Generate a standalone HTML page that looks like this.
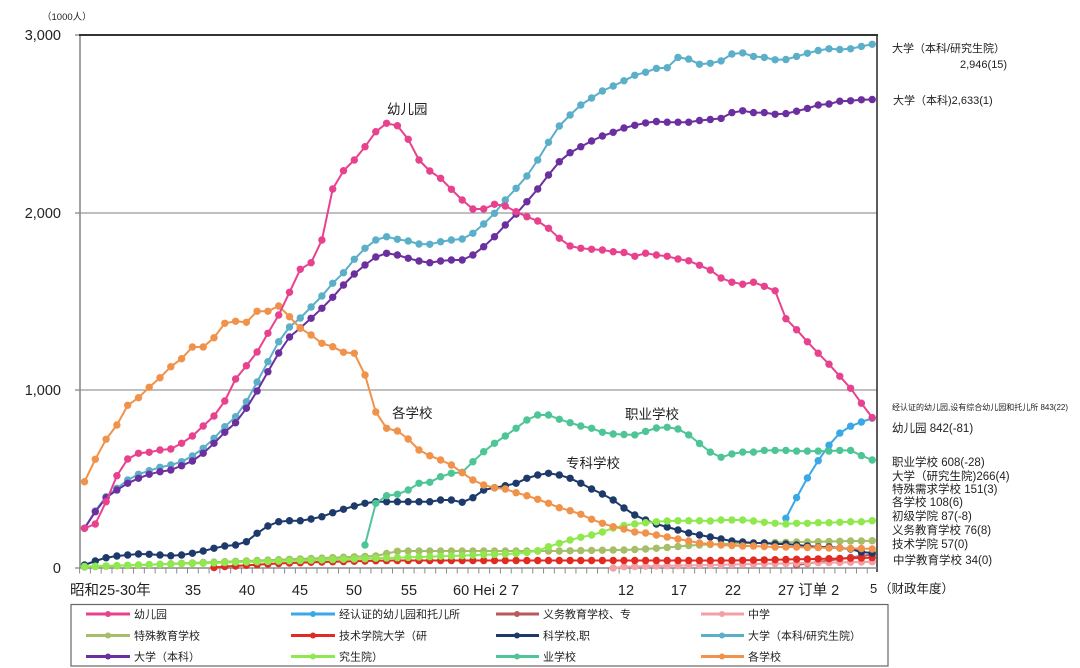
<!DOCTYPE html>
<html><head><meta charset="utf-8"><style>
html,body{margin:0;padding:0;background:#fff;}
svg{display:block;}
text{font-family:"Liberation Sans","Noto Sans CJK SC",sans-serif;fill:#222;}
</style></head><body>
<svg width="1080" height="668" viewBox="0 0 1080 668" xmlns="http://www.w3.org/2000/svg">
<defs>
<marker id="mPk" viewBox="0 0 8 8" refX="4" refY="4" markerWidth="8" markerHeight="8" markerUnits="userSpaceOnUse"><circle cx="4" cy="4" r="3.7" fill="#e8428f"/></marker>
<marker id="mCy" viewBox="0 0 8 8" refX="4" refY="4" markerWidth="8" markerHeight="8" markerUnits="userSpaceOnUse"><circle cx="4" cy="4" r="3.7" fill="#5bafc9"/></marker>
<marker id="mPu" viewBox="0 0 8 8" refX="4" refY="4" markerWidth="8" markerHeight="8" markerUnits="userSpaceOnUse"><circle cx="4" cy="4" r="3.7" fill="#6b2fa0"/></marker>
<marker id="mOr" viewBox="0 0 8 8" refX="4" refY="4" markerWidth="8" markerHeight="8" markerUnits="userSpaceOnUse"><circle cx="4" cy="4" r="3.7" fill="#f0924a"/></marker>
<marker id="mNv" viewBox="0 0 8 8" refX="4" refY="4" markerWidth="8" markerHeight="8" markerUnits="userSpaceOnUse"><circle cx="4" cy="4" r="3.7" fill="#1e3a6b"/></marker>
<marker id="mTe" viewBox="0 0 8 8" refX="4" refY="4" markerWidth="8" markerHeight="8" markerUnits="userSpaceOnUse"><circle cx="4" cy="4" r="3.7" fill="#4ec596"/></marker>
<marker id="mBl" viewBox="0 0 8 8" refX="4" refY="4" markerWidth="8" markerHeight="8" markerUnits="userSpaceOnUse"><circle cx="4" cy="4" r="3.7" fill="#3aa8e6"/></marker>
<marker id="mBg" viewBox="0 0 8 8" refX="4" refY="4" markerWidth="8" markerHeight="8" markerUnits="userSpaceOnUse"><circle cx="4" cy="4" r="3.7" fill="#8fe84e"/></marker>
<marker id="mOl" viewBox="0 0 8 8" refX="4" refY="4" markerWidth="8" markerHeight="8" markerUnits="userSpaceOnUse"><circle cx="4" cy="4" r="3.7" fill="#a5bf68"/></marker>
<marker id="mRd" viewBox="0 0 8 8" refX="4" refY="4" markerWidth="8" markerHeight="8" markerUnits="userSpaceOnUse"><circle cx="4" cy="4" r="3.7" fill="#e02a22"/></marker>
<marker id="mLp" viewBox="0 0 8 8" refX="4" refY="4" markerWidth="8" markerHeight="8" markerUnits="userSpaceOnUse"><circle cx="4" cy="4" r="3.7" fill="#f2a0a6"/></marker>
<marker id="mYw" viewBox="0 0 8 8" refX="4" refY="4" markerWidth="8" markerHeight="8" markerUnits="userSpaceOnUse"><circle cx="4" cy="4" r="3.7" fill="#b85a5a"/></marker>
</defs>

<text x="42" y="20" font-size="9.5">（1000人）</text>

<line x1="80" y1="213" x2="877" y2="213" stroke="#999" stroke-width="1.3"/>
<line x1="80" y1="390" x2="877" y2="390" stroke="#999" stroke-width="1.3"/>
<line x1="75" y1="213" x2="80" y2="213" stroke="#888" stroke-width="1.3"/>
<line x1="75" y1="390" x2="80" y2="390" stroke="#888" stroke-width="1.3"/>
<line x1="75" y1="568" x2="80" y2="568" stroke="#888" stroke-width="1.3"/>
<line x1="75" y1="35" x2="80" y2="35" stroke="#888" stroke-width="1.3"/>
<line x1="80" y1="35" x2="80" y2="568" stroke="#8a8a8a" stroke-width="1.6"/>
<line x1="79" y1="35" x2="878" y2="35" stroke="#333" stroke-width="2"/>
<line x1="877" y1="35" x2="877" y2="572" stroke="#333" stroke-width="1.6"/>
<line x1="80" y1="568" x2="877" y2="568" stroke="#8a8a8a" stroke-width="1.4"/>
<line x1="79.1" y1="571" x2="877" y2="571" stroke="#8a8a8a" stroke-width="5" stroke-dasharray="1 9.79"/>

<g font-size="14.5" text-anchor="end">
<text x="61" y="40">3,000</text>
<text x="61" y="218">2,000</text>
<text x="61" y="395">1,000</text>
<text x="61" y="573">0</text>
</g>

<g font-size="14.5">
<text x="70" y="595">昭和25-30年</text>
<text x="193" y="595" text-anchor="middle">35</text>
<text x="247" y="595" text-anchor="middle">40</text>
<text x="300" y="595" text-anchor="middle">45</text>
<text x="354" y="595" text-anchor="middle">50</text>
<text x="409" y="595" text-anchor="middle">55</text>
<text x="453" y="595">60 Hei 2 7</text>
<text x="626" y="595" text-anchor="middle">12</text>
<text x="679" y="595" text-anchor="middle">17</text>
<text x="733" y="595" text-anchor="middle">22</text>
<text x="778" y="595">27 订单 2</text>
<text x="870" y="593" font-size="13">5</text>
<text x="879" y="593" font-size="12.5">（财政年度）</text>
</g>

<g fill="none" stroke-width="2" stroke-linejoin="round">
<polyline stroke="#b85a5a" marker-start="url(#mYw)" marker-mid="url(#mYw)" marker-end="url(#mYw)" points="796.6,565 807.4,563.5 818.2,562 829,560.5 839.8,559 850.6,557.5 861.4,556 872.2,554.5"/>
<polyline stroke="#f2a0a6" marker-start="url(#mLp)" marker-mid="url(#mLp)" marker-end="url(#mLp)" points="613.2,568 624,566.7 634.8,566.5 645.6,566.3 656.4,566 667.2,565.8 678,565.6 688.7,565.4 699.5,565.2 710.3,565 721.1,564.7 731.9,564.5 742.7,564.3 753.5,564 764.3,563.8 775.1,563.6 785.9,563.4 796.6,563.2 807.4,563 818.2,562.8 829,562.6 839.8,562.4 850.6,562.2 861.4,562 872.2,561.7"/>
<polyline stroke="#a5bf68" marker-start="url(#mOl)" marker-mid="url(#mOl)" marker-end="url(#mOl)" points="84.5,567 95.3,566.6 106.1,566.2 116.9,565.8 127.7,565.4 138.5,565 149.2,564.6 160,564.2 170.8,563.7 181.6,563.3 192.4,562.9 203.2,562.5 214,562.1 224.8,561.7 235.6,561.3 246.4,560.9 257.1,560.5 267.9,560.1 278.7,559.7 289.5,559.3 300.3,558.9 311.1,558.5 321.9,558.1 332.7,557.6 343.5,557.2 354.3,556.8 365,556.4 375.8,556 386.6,553.5 397.4,551.3 408.2,551 419,551 429.8,551 440.6,551 451.4,551 462.2,551 472.9,551 483.7,551 494.5,551 505.3,551 516.1,551 526.9,551 537.7,551 548.5,551 559.3,551 570.1,550.8 580.8,550.6 591.6,550.4 602.4,550.2 613.2,550 624,550 634.8,549.5 645.6,549 656.4,548.3 667.2,547.5 678,546.5 688.7,545.5 699.5,545 710.3,544.5 721.1,544 731.9,543.7 742.7,543.3 753.5,543 764.3,543 775.1,542.5 785.9,542.3 796.6,542 807.4,542 818.2,541.7 829,541.5 839.8,541.3 850.6,541 861.4,541 872.2,540.7"/>
<polyline stroke="#e02a22" marker-start="url(#mRd)" marker-mid="url(#mRd)" marker-end="url(#mRd)" points="214,567.5 224.8,566.5 235.6,566 246.4,565.3 257.1,564.7 267.9,564 278.7,563.5 289.5,563 300.3,562.7 311.1,562.3 321.9,562 332.7,561.7 343.5,561.5 354.3,561.3 365,561 375.8,560.8 386.6,560.6 397.4,560.5 408.2,560.5 419,560.5 429.8,560.5 440.6,560.5 451.4,560.5 462.2,560.5 472.9,560.5 483.7,560.5 494.5,560.5 505.3,560.5 516.1,560.5 526.9,560.5 537.7,560.5 548.5,560.5 559.3,560.5 570.1,560.5 580.8,560.5 591.6,560.5 602.4,560.5 613.2,560.5 624,560.5 634.8,560.5 645.6,560.5 656.4,560.5 667.2,560.5 678,560.5 688.7,560.5 699.5,560.5 710.3,560.5 721.1,560.5 731.9,560.5 742.7,560.3 753.5,560.1 764.3,559.9 775.1,559.7 785.9,559.5 796.6,559.3 807.4,559.1 818.2,558.9 829,558.7 839.8,558.5 850.6,558.2 861.4,558 872.2,557.6"/>
<polyline stroke="#1e3a6b" marker-start="url(#mNv)" marker-mid="url(#mNv)" marker-end="url(#mNv)" points="84.5,565 95.3,561 106.1,557.7 116.9,556 127.7,555 138.5,554 149.2,554.3 160,555 170.8,555.7 181.6,555 192.4,553.3 203.2,551 214,548.3 224.8,546 235.6,545 246.4,541.7 257.1,533.3 267.9,526 278.7,521.7 289.5,520.7 300.3,520.7 311.1,519 321.9,516.7 332.7,512.7 343.5,509.3 354.3,506 365,503.3 375.8,501.7 386.6,501.7 397.4,501.7 408.2,501.7 419,501.7 429.8,501.7 440.6,500 451.4,500 462.2,502.3 472.9,497.7 483.7,490 494.5,487.7 505.3,485.7 516.1,483.3 526.9,478.3 537.7,475 548.5,473.3 559.3,475 570.1,478.3 580.8,483.3 591.6,489 602.4,494 613.2,500 624,508 634.8,515 645.6,520 656.4,524 667.2,527 678,530 688.7,533 699.5,535 710.3,537 721.1,539 731.9,541 742.7,542 753.5,543 764.3,543 775.1,544 785.9,544 796.6,545 807.4,546 818.2,547 829,547 839.8,548 850.6,549 861.4,552 872.2,553"/>
<polyline stroke="#3aa8e6" marker-start="url(#mBl)" marker-mid="url(#mBl)" marker-end="url(#mBl)" points="785.9,518.3 796.6,497.6 807.4,478 818.2,460.7 829,445.2 839.8,433.1 850.6,426.2 861.4,422 872.2,418.3"/>
<polyline stroke="#5bafc9" marker-start="url(#mCy)" marker-mid="url(#mCy)" marker-end="url(#mCy)" points="84.5,528.3 95.3,511 106.1,496.7 116.9,488.3 127.7,480 138.5,474.3 149.2,470.7 160,467.3 170.8,465 181.6,461.7 192.4,456 203.2,448.3 214,438.3 224.8,426.7 235.6,416.7 246.4,401.7 257.1,382 267.9,361.7 278.7,341.7 289.5,327 300.3,318 311.1,307 321.9,296 332.7,283.3 343.5,272.7 354.3,259.3 365,248.3 375.8,240 386.6,236.7 397.4,239.3 408.2,241 419,244 429.8,244.3 440.6,241.7 451.4,240 462.2,239 472.9,233.3 483.7,224 494.5,213.3 505.3,200 516.1,188.3 526.9,176 537.7,160 548.5,142.3 559.3,126 570.1,115 580.8,105 591.6,98 602.4,91 613.2,86 624,80.8 634.8,75.3 645.6,72.2 656.4,68.4 667.2,67.7 678,57.4 688.7,59.1 699.5,64.3 710.3,63.3 721.1,60.9 731.9,54 742.7,52.9 753.5,56.4 764.3,57.4 775.1,59.8 785.9,59.5 796.6,56.4 807.4,53.3 818.2,50.5 829,48.8 839.8,49.5 850.6,48.8 861.4,46.4 872.2,44.3"/>
<polyline stroke="#6b2fa0" marker-start="url(#mPu)" marker-mid="url(#mPu)" marker-end="url(#mPu)" points="84.5,528.3 95.3,511.7 106.1,497.7 116.9,490 127.7,483.3 138.5,478.3 149.2,474.3 160,471.7 170.8,470 181.6,465.7 192.4,461 203.2,453.3 214,443.3 224.8,432.3 235.6,422.7 246.4,408.3 257.1,391 267.9,371.7 278.7,353 289.5,337 300.3,328 311.1,318.3 321.9,308.3 332.7,297.3 343.5,285 354.3,274 365,265 375.8,257 386.6,253.3 397.4,255 408.2,258.3 419,261 429.8,262.7 440.6,261 451.4,260 462.2,260 472.9,255 483.7,246.7 494.5,236.7 505.3,225 516.1,214 526.9,201.7 537.7,189 548.5,175 559.3,161.7 570.1,152.7 580.8,146.7 591.6,141 602.4,136 613.2,132.3 624,128 634.8,125.3 645.6,122.9 656.4,121.5 667.2,122.2 678,122.2 688.7,122.2 699.5,120.5 710.3,119.5 721.1,118.4 731.9,112.6 742.7,110.8 753.5,112.6 764.3,112.6 775.1,114.3 785.9,113.6 796.6,111.2 807.4,108.4 818.2,105 829,104 839.8,101.2 850.6,100.8 861.4,99.8 872.2,99.5"/>
<polyline stroke="#8fe84e" marker-start="url(#mBg)" marker-mid="url(#mBg)" marker-end="url(#mBg)" points="84.5,566.5 95.3,566.2 106.1,565.9 116.9,565.6 127.7,565.3 138.5,565 149.2,564.7 160,564.4 170.8,564.1 181.6,563.8 192.4,563.5 203.2,563.2 214,562.9 224.8,562.6 235.6,562.3 246.4,562 257.1,561.7 267.9,561.4 278.7,561.1 289.5,560.8 300.3,560.5 311.1,560.2 321.9,559.9 332.7,559.6 343.5,559.3 354.3,559 365,558.7 375.8,558.3 386.6,558 397.4,557.7 408.2,557.4 419,557 429.8,556.7 440.6,556.3 451.4,556 462.2,555.6 472.9,555.2 483.7,554.8 494.5,554.4 505.3,554 516.1,553.5 526.9,552.5 537.7,550.7 548.5,546.7 559.3,543.3 570.1,540 580.8,537.3 591.6,535 602.4,532 613.2,528 624,525.5 634.8,524 645.6,522.7 656.4,521.7 667.2,521 678,520.7 688.7,520.7 699.5,520.7 710.3,521 721.1,520 731.9,520 742.7,520 753.5,521 764.3,522.3 775.1,523.3 785.9,524 796.6,523.3 807.4,523.3 818.2,522.7 829,522.7 839.8,522.3 850.6,521.7 861.4,521.7 872.2,520.7"/>
<polyline stroke="#4ec596" marker-start="url(#mTe)" marker-mid="url(#mTe)" marker-end="url(#mTe)" points="365,545 375.8,503.3 386.6,495.7 397.4,494.3 408.2,490 419,483.3 429.8,482.3 440.6,476.7 451.4,473.3 462.2,472.3 472.9,461.7 483.7,451.7 494.5,443.3 505.3,436 516.1,428.3 526.9,420 537.7,415 548.5,415 559.3,419.3 570.1,422.7 580.8,426 591.6,428.3 602.4,432.3 613.2,434 624,434.5 634.8,434.9 645.6,431.4 656.4,428 667.2,427.3 678,429 688.7,434.9 699.5,443.5 710.3,452.1 721.1,457.3 731.9,453.9 742.7,452.1 753.5,452.1 764.3,450.4 775.1,450.4 785.9,450.4 796.6,451.1 807.4,451.1 818.2,451.1 829,451.1 839.8,450.4 850.6,450.4 861.4,455.6 872.2,460"/>
<polyline stroke="#f0924a" marker-start="url(#mOr)" marker-mid="url(#mOr)" marker-end="url(#mOr)" points="84.5,481.7 95.3,459.3 106.1,439.3 116.9,425 127.7,405.3 138.5,397.7 149.2,387.3 160,377.7 170.8,366.7 181.6,358.7 192.4,347 203.2,347 214,337.7 224.8,323.3 235.6,321.3 246.4,322.3 257.1,311.3 267.9,311.3 278.7,306 289.5,316.7 300.3,328.3 311.1,335 321.9,343.3 332.7,346.7 343.5,352.3 354.3,353.3 365,375 375.8,412 386.6,428.3 397.4,431 408.2,439 419,450 429.8,455.7 440.6,460 451.4,465 462.2,472.7 472.9,480 483.7,485 494.5,487.7 505.3,489 516.1,492.7 526.9,495.7 537.7,499.3 548.5,503.3 559.3,507.7 570.1,510.7 580.8,514.3 591.6,519.3 602.4,523.3 613.2,526.7 624,529 634.8,532 645.6,533 656.4,535 667.2,537 678,539 688.7,541 699.5,543 710.3,544 721.1,545 731.9,545.5 742.7,546 753.5,546 764.3,546.5 775.1,547 785.9,547 796.6,547 807.4,547.5 818.2,547.5 829,548 839.8,548 850.6,548.5 861.4,548.5 872.2,549"/>
<polyline stroke="#e8428f" marker-start="url(#mPk)" marker-mid="url(#mPk)" marker-end="url(#mPk)" points="84.5,528.3 95.3,524 106.1,501.7 116.9,475.7 127.7,459 138.5,453.3 149.2,452.3 160,450 170.8,449 181.6,443.3 192.4,436 203.2,426 214,416 224.8,401 235.6,379 246.4,365.7 257.1,352 267.9,333.3 278.7,315 289.5,292.3 300.3,269.3 311.1,262.7 321.9,240 332.7,189 343.5,170.7 354.3,160 365,146.7 375.8,131.7 386.6,123.3 397.4,125.7 408.2,139.3 419,160 429.8,171 440.6,178.3 451.4,189.3 462.2,200 472.9,209 483.7,209 494.5,204.3 505.3,206 516.1,211.7 526.9,216.7 537.7,221 548.5,228.3 559.3,238.3 570.1,246 580.8,248.3 591.6,249.3 602.4,250 613.2,251.7 624,252.5 634.8,256.3 645.6,253.2 656.4,255 667.2,256.3 678,259 688.7,260.8 699.5,265.3 710.3,270.1 721.1,278 731.9,282.2 742.7,284.2 753.5,282.2 764.3,286.3 775.1,290.8 785.9,318.7 796.6,329.7 807.4,341.8 818.2,353.2 829,364.2 839.8,376.3 850.6,388.3 861.4,403.2 872.2,417.6"/>
</g>

<g font-size="13.5">
<text x="387" y="114">幼儿园</text>
<text x="392" y="418">各学校</text>
<text x="566" y="468">专科学校</text>
<text x="625" y="419">职业学校</text>
</g>

<g font-size="11">
<text x="892" y="52">大学（本科/研究生院）</text>
<text x="960" y="68">2,946(15)</text>
<text x="893" y="104">大学（本科)2,633(1)</text>
</g>
<text x="892" y="410" font-size="8">经认证的幼儿园,设有综合幼儿园和托儿所 843(22)</text>
<g font-size="11.5">
<text x="892" y="432">幼儿园 842(-81)</text>
<text x="892" y="466">职业学校 608(-28)</text>
<text x="892" y="480">大学（研究生院)266(4)</text>
<text x="892" y="493">特殊需求学校 151(3)</text>
<text x="892" y="506">各学校 108(6)</text>
<text x="892" y="520">初级学院 87(-8)</text>
<text x="892" y="534">义务教育学校 76(8)</text>
<text x="892" y="548">技术学院 57(0)</text>
<text x="893" y="564">中学教育学校 34(0)</text>
</g>

<rect x="71" y="604.5" width="817" height="61.5" fill="#fff" stroke="#666" stroke-width="1.2"/>
<g stroke-width="3" font-size="11">
<line x1="86" y1="614" x2="130" y2="614" stroke="#e8428f"/><circle cx="108" cy="614" r="3" fill="#e8428f"/>
<text x="134" y="618" stroke="none">幼儿园</text>
<line x1="291" y1="614" x2="335" y2="614" stroke="#3aa8e6"/><circle cx="313" cy="614" r="3" fill="#3aa8e6"/>
<text x="339" y="618" stroke="none">经认证的幼儿园和托儿所</text>
<line x1="496" y1="614" x2="539" y2="614" stroke="#b85a5a"/><circle cx="517" cy="614" r="3" fill="#b85a5a"/>
<text x="543" y="618" stroke="none">义务教育学校、专</text>
<line x1="701" y1="614" x2="744" y2="614" stroke="#f2a0a6"/><circle cx="722" cy="614" r="3" fill="#f2a0a6"/>
<text x="748" y="618" stroke="none">中学</text>

<line x1="86" y1="635.5" x2="130" y2="635.5" stroke="#a5bf68"/><circle cx="108" cy="635.5" r="3" fill="#a5bf68"/>
<text x="134" y="639.5" stroke="none">特殊教育学校</text>
<line x1="291" y1="635.5" x2="335" y2="635.5" stroke="#e02a22"/><circle cx="313" cy="635.5" r="3" fill="#e02a22"/>
<text x="339" y="639.5" stroke="none">技术学院大学（研</text>
<line x1="496" y1="635.5" x2="539" y2="635.5" stroke="#1e3a6b"/><circle cx="517" cy="635.5" r="3" fill="#1e3a6b"/>
<text x="543" y="639.5" stroke="none">科学校,职</text>
<line x1="701" y1="635.5" x2="744" y2="635.5" stroke="#5bafc9"/><circle cx="722" cy="635.5" r="3" fill="#5bafc9"/>
<text x="748" y="639.5" stroke="none">大学（本科/研究生院）</text>

<line x1="86" y1="656.5" x2="130" y2="656.5" stroke="#6b2fa0"/><circle cx="108" cy="656.5" r="3" fill="#6b2fa0"/>
<text x="134" y="660.5" stroke="none">大学（本科）</text>
<line x1="291" y1="656.5" x2="335" y2="656.5" stroke="#8fe84e"/><circle cx="313" cy="656.5" r="3" fill="#8fe84e"/>
<text x="339" y="660.5" stroke="none">究生院）</text>
<line x1="496" y1="656.5" x2="539" y2="656.5" stroke="#4ec596"/><circle cx="517" cy="656.5" r="3" fill="#4ec596"/>
<text x="543" y="660.5" stroke="none">业学校</text>
<line x1="701" y1="656.5" x2="744" y2="656.5" stroke="#f0924a"/><circle cx="722" cy="656.5" r="3" fill="#f0924a"/>
<text x="748" y="660.5" stroke="none">各学校</text>
</g>
</svg>
</body></html>
